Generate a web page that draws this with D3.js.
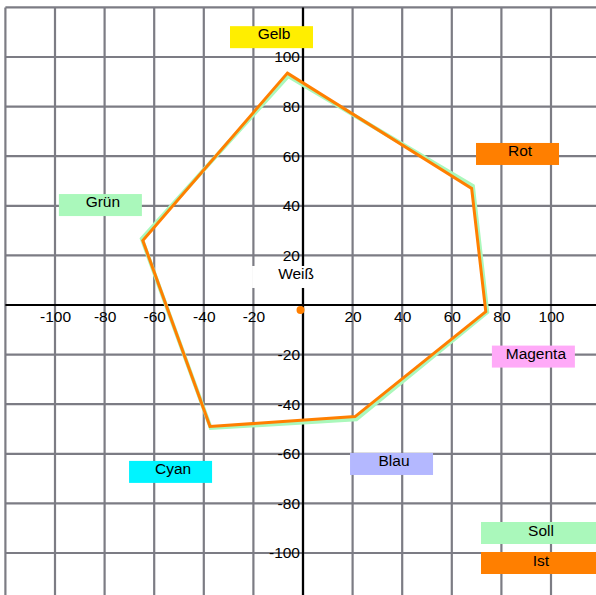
<!DOCTYPE html>
<html>
<head>
<meta charset="utf-8">
<script src="https://cdn.jsdelivr.net/npm/d3@7"></script>
<style>
  html, body { margin: 0; padding: 0; background: #fff; }
  svg text { font-family: "Liberation Sans", Arial, Helvetica, sans-serif; font-size: 15.5px; fill: #000; }
</style>
</head>
<body>
<svg id="chart" width="596" height="595"></svg>
<script>
// ---- data ----
const gridValues = [-120, -100, -80, -60, -40, -20, 0, 20, 40, 60, 80, 100, 120];
const tickValues = [-100, -80, -60, -40, -20, 20, 40, 60, 80, 100];

const vertexNames = ["Gelb", "Rot", "Magenta", "Blau", "Cyan", "Grün"];
const sollA = [-6, 68.5, 74.3, 21.5, -37.2, -65];
const sollB = [92.3, 48, -2.9, -46.1, -49.6, 26.7];
const istA  = [-6.3, 68, 73.7, 21, -37.5, -64.6];
const istB  = [93.5, 47, -2.7, -45, -49, 26];

const whitePointIst = [-1, -2];

const labelNames  = ["Gelb", "Rot", "Grün", "Weiß", "Magenta", "Cyan", "Blau"];
const labelA      = [-12.7, 86.5, -81.7, -3.8, 92.9, -53.4, 35.7];
const labelB      = [108, 60.9, 40.3, 11.3, -20.8, -67.3, -64.1];
const labelColors = ["#ffee00", "#ff7f00", "#aaf8bb", "#ffffff", "#ffaaf8", "#00f4ff", "#b4b8ff"];

const legendNames  = ["Soll", "Ist"];
const legendColors = ["#aaf8bb", "#ff7f00"];

// ---- drawing ----
const svg = d3.select("#chart");
const x = d3.scaleLinear().domain([-120, 120]).range([303 - 297.6, 303 + 297.6]);
const y = d3.scaleLinear().domain([-120, 120]).range([305 + 297.6, 305 - 297.6]);

const gridColor = "#7c7c84";
const g = svg.append("g");

// grid
g.selectAll("line.v").data(gridValues).join("line")
  .attr("x1", d => x(d)).attr("x2", d => x(d))
  .attr("y1", y(120)).attr("y2", y(-120))
  .attr("stroke", gridColor).attr("stroke-width", 2.2);
g.selectAll("line.h").data(gridValues).join("line")
  .attr("class", "h")
  .attr("y1", d => y(d)).attr("y2", d => y(d))
  .attr("x1", x(-120)).attr("x2", x(120))
  .attr("stroke", gridColor).attr("stroke-width", 2.2);

// main axes
svg.append("line").attr("x1", x(-120)).attr("x2", x(120)).attr("y1", y(0)).attr("y2", y(0))
  .attr("stroke", "#000").attr("stroke-width", 2.2);
svg.append("line").attr("x1", x(0)).attr("x2", x(0)).attr("y1", y(120)).attr("y2", y(-120))
  .attr("stroke", "#000").attr("stroke-width", 2.2);

// tick labels via d3 axes
const fmt = d => String(d);
const xAxis = svg.append("g").attr("transform", `translate(0,${y(0)})`)
  .call(d3.axisBottom(x).tickValues(tickValues).tickSize(0).tickPadding(6).tickFormat(fmt));
const yAxis = svg.append("g").attr("transform", `translate(${x(0)},0)`)
  .call(d3.axisLeft(y).tickValues(tickValues).tickSize(0).tickPadding(3).tickFormat(fmt));
[xAxis, yAxis].forEach(ax => {
  ax.select(".domain").remove();
  ax.selectAll("text").attr("font-family", null).attr("font-size", null)
    .style("font-family", '"Liberation Sans", Arial, sans-serif').style("font-size", "15.5px").attr("fill", "#000");
});

// polygons
const line = d3.line().x(d => x(d[0])).y(d => y(d[1])).curve(d3.curveLinearClosed);
const sollPts = vertexNames.map((n, i) => [sollA[i], sollB[i]]);
const istPts  = vertexNames.map((n, i) => [istA[i], istB[i]]);
svg.append("path").attr("d", line(sollPts)).attr("fill", "none")
  .attr("stroke", legendColors[0]).attr("stroke-width", 4).attr("stroke-linejoin", "miter");
svg.append("path").attr("d", line(istPts)).attr("fill", "none")
  .attr("stroke", legendColors[1]).attr("stroke-width", 3).attr("stroke-linejoin", "miter");

// labels
const boxW = 83, boxH = 22;
const lab = svg.selectAll("g.lab").data(labelNames).join("g").attr("class", "lab");
lab.append("rect")
  .attr("x", (d, i) => x(labelA[i]) - boxW / 2)
  .attr("y", (d, i) => y(labelB[i]) - boxH / 2)
  .attr("width", boxW).attr("height", boxH)
  .attr("fill", (d, i) => labelColors[i]);
lab.append("text")
  .attr("x", (d, i) => x(labelA[i]) + 2.5)
  .attr("y", (d, i) => y(labelB[i]) - boxH / 2 + 13)
  .attr("text-anchor", "middle")
  .text(d => d);

// white point
svg.append("circle").attr("cx", x(whitePointIst[0])).attr("cy", y(whitePointIst[1]))
  .attr("r", 4).attr("fill", legendColors[1]);

// legend
const leg = svg.selectAll("g.leg").data(legendNames).join("g").attr("class", "leg");
leg.append("rect")
  .attr("x", 481).attr("y", (d, i) => 522 + i * 30)
  .attr("width", 121).attr("height", boxH)
  .attr("fill", (d, i) => legendColors[i]);
leg.append("text")
  .attr("x", 541).attr("y", (d, i) => 536 + i * 29.5)
  .attr("text-anchor", "middle")
  .text(d => d);
</script>
</body>
</html>
